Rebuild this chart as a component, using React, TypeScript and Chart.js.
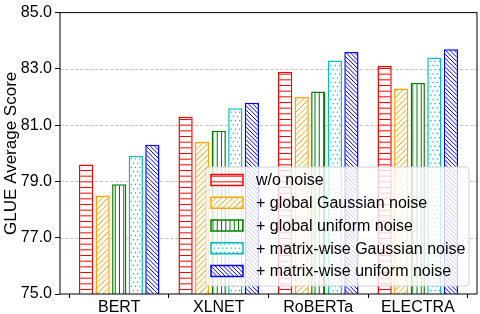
import React, { useEffect, useRef } from 'react';
import { Chart, registerables } from 'chart.js';

Chart.register(...registerables);

const categories = ['BERT', 'XLNET', 'RoBERTa', 'ELECTRA'];
const seriesLabels = [
  'w/o noise',
  '+ global Gaussian noise',
  '+ global uniform noise',
  '+ matrix-wise Gaussian noise',
  '+ matrix-wise uniform noise',
];
const woNoise = [79.6, 81.3, 82.9, 83.1];
const globalGaussian = [78.5, 80.4, 82.0, 82.3];
const globalUniform = [78.9, 80.8, 82.2, 82.5];
const matrixGaussian = [79.9, 81.6, 83.3, 83.4];
const matrixUniform = [80.3, 81.8, 83.6, 83.7];
const yTicks = [75, 77, 79, 81, 83, 85];
const yTitle = 'GLUE Average Score';

const seriesValues = [woNoise, globalGaussian, globalUniform, matrixGaussian, matrixUniform];
const seriesColors = ['#ff0000', '#ffa500', '#008000', '#00bfbf', '#0000ff'];
const seriesHatches = ['-', '/', '|', '.', '\\'];

const FONT = "'Liberation Sans', Arial, Helvetica, sans-serif";
const FS = 16;

function makePattern(kind: string, color: string): CanvasPattern | string {
  const T = 17;
  const c = document.createElement('canvas');
  c.width = T;
  c.height = T;
  const g = c.getContext('2d');
  if (!g) return '#fff';
  g.fillStyle = '#ffffff';
  g.fillRect(0, 0, T, T);
  g.strokeStyle = color;
  g.fillStyle = color;
  g.lineWidth = 1;
  g.beginPath();
  if (kind === '-') {
    const p = T / 3;
    for (let k = 0; k < 3; k++) {
      const y = k * p + 0.5;
      g.moveTo(0, y);
      g.lineTo(T, y);
    }
  } else if (kind === '|') {
    const p = T / 4;
    for (let k = 0; k < 4; k++) {
      const x = k * p + 0.5;
      g.moveTo(x, 0);
      g.lineTo(x, T);
    }
  } else if (kind === '/') {
    const p = T / 3;
    for (let k = -1; k <= 7; k++) {
      const cc = k * p;
      g.moveTo(cc + 1, -1);
      g.lineTo(cc - T - 1, T + 1);
    }
  } else if (kind === '\\') {
    const p = T / 4;
    for (let k = -5; k <= 5; k++) {
      const cc = k * p;
      g.moveTo(cc - 1, -1);
      g.lineTo(cc + T + 1, T + 1);
    }
  }
  g.stroke();
  if (kind === '.') {
    const p = T / 4;
    for (let j = 0; j < 4; j++) {
      for (let i = 0; i < 4; i++) {
        const x = i * p + (j % 2 ? p / 2 : 0) + 1;
        const y = j * p + 1;
        g.fillRect(x, y, 1.3, 1.3);
      }
    }
  }
  const pat = g.createPattern(c, 'repeat');
  return pat || '#fff';
}

const gridAndFrame = {
  id: 'gridAndFrame',
  beforeDatasetsDraw(chart: any) {
    const { ctx, chartArea } = chart;
    const y = chart.scales.y;
    ctx.save();
    ctx.strokeStyle = '#c8c8c8';
    ctx.lineWidth = 1;
    ctx.setLineDash([3.5, 1.5]);
    for (const v of yTicks) {
      if (v === yTicks[0] || v === yTicks[yTicks.length - 1]) continue;
      const py = Math.round(y.getPixelForValue(v)) + 0.5;
      ctx.beginPath();
      ctx.moveTo(chartArea.left, py);
      ctx.lineTo(chartArea.right, py);
      ctx.stroke();
    }
    ctx.restore();
  },
  afterDatasetsDraw(chart: any) {
    const { ctx, chartArea } = chart;
    ctx.save();
    ctx.strokeStyle = '#000';
    ctx.lineWidth = 1;
    ctx.strokeRect(chartArea.left, chartArea.top, chartArea.right - chartArea.left, chartArea.bottom - chartArea.top);

    // legend
    const bx = 206, by = 167, bw = 263, bh = 119, r = 3;
    ctx.fillStyle = 'rgba(255,255,255,0.8)';
    ctx.strokeStyle = '#d0d0d0';
    ctx.beginPath();
    ctx.moveTo(bx + r, by);
    ctx.lineTo(bx + bw - r, by);
    ctx.quadraticCurveTo(bx + bw, by, bx + bw, by + r);
    ctx.lineTo(bx + bw, by + bh - r);
    ctx.quadraticCurveTo(bx + bw, by + bh, bx + bw - r, by + bh);
    ctx.lineTo(bx + r, by + bh);
    ctx.quadraticCurveTo(bx, by + bh, bx, by + bh - r);
    ctx.lineTo(bx, by + r);
    ctx.quadraticCurveTo(bx, by, bx + r, by);
    ctx.closePath();
    ctx.fill();
    ctx.stroke();

    const ds = chart.data.datasets;
    ctx.font = `${FS}px ${FONT}`;
    ctx.textBaseline = 'middle';
    ctx.textAlign = 'left';
    for (let i = 0; i < ds.length; i++) {
      const cy = 180 + i * 22.75;
      const px = 211, pw = 32, ph = 11;
      ctx.fillStyle = ds[i].backgroundColor;
      ctx.fillRect(px, cy - ph / 2, pw, ph);
      ctx.strokeStyle = ds[i].borderColor;
      ctx.lineWidth = 1.5;
      ctx.strokeRect(px, cy - ph / 2, pw, ph);
      ctx.fillStyle = '#000';
      ctx.fillText(ds[i].label, 256, cy + 1);
    }
    ctx.restore();
  },
};

export default function App() {
  const ref = useRef<HTMLCanvasElement | null>(null);

  useEffect(() => {
    document.body.style.margin = '0';
    const canvas = ref.current;
    if (!canvas) return;
    const datasets = seriesValues.map((vals, i) => ({
      label: seriesLabels[i],
      data: vals.map((v, j) => ({ x: j, y: v })),
      backgroundColor: makePattern(seriesHatches[i], seriesColors[i]),
      borderColor: seriesColors[i],
      borderWidth: 1.5,
      borderSkipped: false,
      categoryPercentage: 0.833,
      barPercentage: 0.86,
    }));

    const chart = new Chart(canvas, {
      type: 'bar',
      data: { datasets } as any,
      options: {
        responsive: false,
        animation: false,
        devicePixelRatio: 1,
        layout: { padding: { left: 0, right: 3, top: 7, bottom: 0 } },
        plugins: {
          legend: { display: false },
          tooltip: { enabled: false },
          title: { display: false },
        },
        scales: {
          x: {
            type: 'linear',
            min: -0.595,
            max: 3.595,
            offset: false,
            afterBuildTicks: (scale: any) => {
              scale.ticks = categories.map((_, i) => ({ value: i }));
            },
            afterFit: (scale: any) => {
              scale.height = 20;
            },
            grid: {
              drawOnChartArea: false,
              drawTicks: true,
              tickLength: 4,
              tickColor: '#000',
              color: '#000',
            },
            border: { display: false },
            ticks: {
              autoSkip: false,
              maxRotation: 0,
              padding: 0,
              color: '#000',
              font: { family: FONT, size: FS },
              callback: (v: any) => categories[Math.round(Number(v))] ?? '',
            },
          },
          y: {
            type: 'linear',
            min: yTicks[0],
            max: yTicks[yTicks.length - 1],
            afterBuildTicks: (scale: any) => {
              scale.ticks = yTicks.map((v) => ({ value: v }));
            },
            afterFit: (scale: any) => {
              scale.width = 60;
            },
            grid: {
              drawOnChartArea: false,
              drawTicks: true,
              tickLength: 5,
              tickColor: '#000',
              color: '#000',
            },
            border: { display: false },
            ticks: {
              padding: 3,
              color: '#000',
              font: { family: FONT, size: FS },
              callback: (v: any) => Number(v).toFixed(1),
            },
            title: {
              display: true,
              text: yTitle,
              color: '#000',
              font: { family: FONT, size: 17 },
              padding: { top: 1, bottom: 0 },
            },
          },
        },
      },
      plugins: [gridAndFrame],
    } as any);

    return () => chart.destroy();
  }, []);

  return (
    <div style={{ position: 'fixed', left: 0, top: 0, width: 480, height: 314 }}>
      <canvas ref={ref} width={480} height={314} style={{ width: 480, height: 314, display: 'block' }} />
    </div>
  );
}
